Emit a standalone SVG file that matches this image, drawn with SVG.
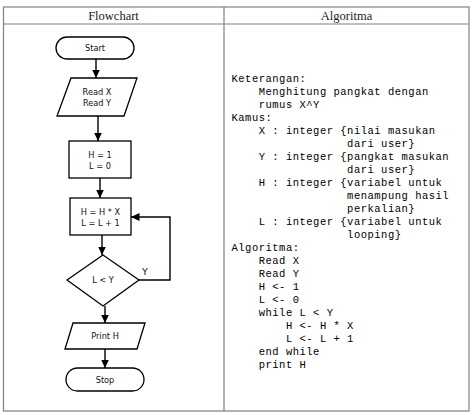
<svg xmlns="http://www.w3.org/2000/svg" width="474" height="415" viewBox="0 0 474 415">
<style>
.tbl{fill:none;stroke:#808080;stroke-width:1.2}
.hdr{font-family:"Liberation Serif",serif;font-size:12.5px;fill:#222;text-anchor:middle}
.shape{fill:#fff;stroke:#000;stroke-width:1.3}
.lbl{font-family:"DejaVu Sans",sans-serif;font-size:8.2px;fill:#111;text-anchor:middle}
.con{fill:none;stroke:#000;stroke-width:1.4}
.code{font-family:"Liberation Mono",monospace;font-size:10.5px;letter-spacing:0.5px;fill:#000;white-space:pre}
</style>
<defs>
<marker id="ah" markerUnits="userSpaceOnUse" markerWidth="9" markerHeight="8" refX="8.5" refY="4" orient="auto">
<path d="M0,0 L8.5,4 L0,8 Z" fill="#000"/>
</marker>
</defs>
<rect width="474" height="415" fill="#fff"/>
<g id="table">
<rect class="tbl" x="3.5" y="7" width="465.5" height="404"/>
<line class="tbl" x1="3.5" y1="24" x2="469" y2="24"/>
<line class="tbl" x1="224" y1="7" x2="224" y2="411"/>
<text class="hdr" x="113.5" y="19.5">Flowchart</text>
<text class="hdr" x="346.5" y="19.5">Algoritma</text>
</g>
<g id="connectors">
<line class="con" x1="96" y1="59" x2="96" y2="78" marker-end="url(#ah)"/>
<line class="con" x1="98" y1="116" x2="98" y2="141" marker-end="url(#ah)"/>
<line class="con" x1="100" y1="178" x2="100" y2="198" marker-end="url(#ah)"/>
<line class="con" x1="102" y1="235" x2="102" y2="255" marker-end="url(#ah)"/>
<line class="con" x1="105" y1="306" x2="105" y2="323" marker-end="url(#ah)"/>
<line class="con" x1="105" y1="349" x2="105" y2="368" marker-end="url(#ah)"/>
<polyline class="con" points="139,280 170,280 170,217 131,217" marker-end="url(#ah)"/>
<text class="lbl" x="145" y="274.5" style="font-size:9.5px">Y</text>
</g>
<g id="start">
<rect class="shape" x="56" y="37" width="78" height="22" rx="11"/>
<text class="lbl" x="95" y="51">Start</text>
</g>
<g id="read">
<polygon class="shape" points="71,78 137,78 124,116 57,116"/>
<text class="lbl" x="97" y="94.5">Read X</text>
<text class="lbl" x="97" y="105.5">Read Y</text>
</g>
<g id="init">
<rect class="shape" x="69" y="141" width="62" height="37"/>
<text class="lbl" x="100" y="158">H = 1</text>
<text class="lbl" x="100" y="168.5">L = 0</text>
</g>
<g id="loopbody">
<rect class="shape" x="70" y="198" width="61" height="37"/>
<text class="lbl" x="100.5" y="215">H = H * X</text>
<text class="lbl" x="100.5" y="225.5">L = L + 1</text>
</g>
<g id="decision">
<polygon class="shape" points="103,255 139,280 103,306 67,280"/>
<text class="lbl" x="103" y="283">L &lt; Y</text>
</g>
<g id="print">
<polygon class="shape" points="73,323 145,323 137,349 65,349"/>
<text class="lbl" x="105" y="339">Print H</text>
</g>
<g id="stop">
<rect class="shape" x="66" y="368" width="78" height="23" rx="11.5"/>
<text class="lbl" x="105" y="382.5">Stop</text>
</g>
<g id="algorithm">
<text class="code" x="231.5" y="81.5">Keterangan:</text>
<text class="code" x="231.5" y="94.5">    Menghitung pangkat dengan</text>
<text class="code" x="231.5" y="107.5">    rumus X^Y</text>
<text class="code" x="231.5" y="120.5">Kamus:</text>
<text class="code" x="231.5" y="133.5">    X : integer {nilai masukan</text>
<text class="code" x="231.5" y="146.5">                 dari user}</text>
<text class="code" x="231.5" y="159.5">    Y : integer {pangkat masukan</text>
<text class="code" x="231.5" y="172.5">                 dari user}</text>
<text class="code" x="231.5" y="185.5">    H : integer {variabel untuk</text>
<text class="code" x="231.5" y="198.5">                 menampung hasil</text>
<text class="code" x="231.5" y="211.5">                 perkalian}</text>
<text class="code" x="231.5" y="224.5">    L : integer {variabel untuk</text>
<text class="code" x="231.5" y="237.5">                 looping}</text>
<text class="code" x="231.5" y="250.5">Algoritma:</text>
<text class="code" x="231.5" y="263.5">    Read X</text>
<text class="code" x="231.5" y="276.5">    Read Y</text>
<text class="code" x="231.5" y="289.5">    H &lt;- 1</text>
<text class="code" x="231.5" y="302.5">    L &lt;- 0</text>
<text class="code" x="231.5" y="315.5">    while L &lt; Y</text>
<text class="code" x="231.5" y="328.5">        H &lt;- H * X</text>
<text class="code" x="231.5" y="341.5">        L &lt;- L + 1</text>
<text class="code" x="231.5" y="354.5">    end while</text>
<text class="code" x="231.5" y="367.5">    print H</text>
</g>
</svg>
